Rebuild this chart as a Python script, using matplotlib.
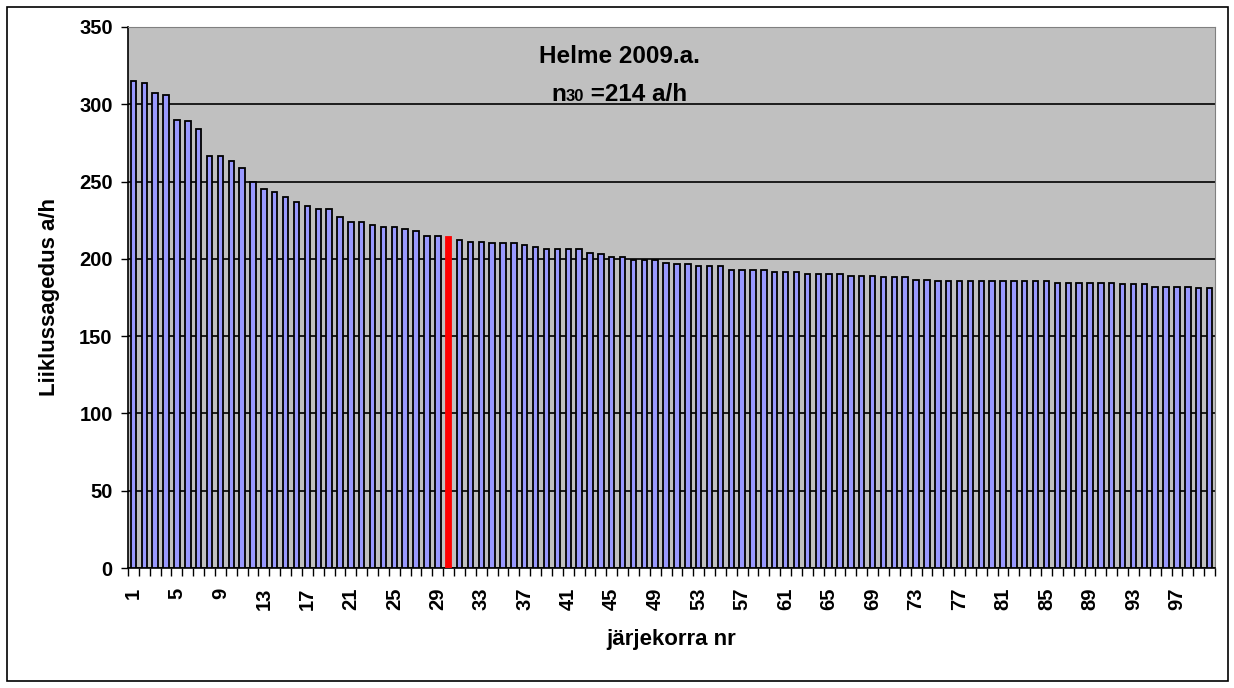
import matplotlib
matplotlib.use("Agg")
import matplotlib.pyplot as plt
import numpy as np
from matplotlib.offsetbox import TextArea, HPacker, AnchoredOffsetbox
from matplotlib.patches import Rectangle

# tunni liiklussagedused kahanevas järjekorras
jrk = list(range(1, 101))
sagedus = [315, 313.5, 307, 306, 290, 289, 284, 266.5, 266.5, 263.5,
           258.5, 250, 245, 243.5, 240, 237, 234.5, 232, 232, 227,
           224, 224, 222, 220.5, 220.5, 219, 218, 215, 215, 214,
           212.5, 211, 211, 210, 210, 210, 209, 207.5, 206.5, 206.5,
           206.5, 206.5, 204, 203, 201.5, 201.5, 199, 199, 199, 197.5,
           196.5, 196.5, 195.5, 195.5, 195.5, 193, 193, 193, 193, 191.5,
           191.5, 191.5, 190.5, 190.5, 190.5, 190.5, 189, 189, 189, 188,
           188, 188, 186.5, 186.5, 185.5, 185.5, 185.5, 185.5, 185.5, 185.5,
           185.5, 185.5, 185.5, 185.5, 185.5, 184.5, 184.5, 184.5, 184.5, 184.5,
           184.5, 183.5, 183.5, 183.5, 182, 182, 182, 182, 181, 181]
n30 = 30
pealkiri = "Helme 2009.a."
yticks = [0, 50, 100, 150, 200, 250, 300, 350]
xlabels_at = list(range(1, 101, 4))

plt.rcParams['font.family'] = ['Liberation Sans', 'DejaVu Sans']
plt.rcParams['font.weight'] = 'bold'

fig = plt.figure(figsize=(12.34, 6.88), dpi=100)
ax = fig.add_axes([128/1234, 1 - 568/688, (1215 - 128)/1234, (568 - 27)/688])
ax.set_facecolor('#C0C0C0')

colors = ['#9999FF'] * len(jrk)
edges = ['black'] * len(jrk)
colors[n30 - 1] = '#FF0000'
edges[n30 - 1] = '#FF0000'
ax.bar(jrk, sagedus, width=0.5, color=colors, edgecolor=edges, linewidth=1.3, zorder=3)

ax.set_xlim(0.5, 100.5)
ax.set_ylim(0, 350)
ax.set_yticks(yticks)
ax.set_yticklabels([str(v) for v in yticks], fontsize=14.5, fontweight='bold')
ax.yaxis.grid(True, color='black', linewidth=1.2, zorder=1)
ax.set_axisbelow(True)

ax.set_xticks(xlabels_at)
ax.set_xticklabels([str(v) for v in xlabels_at], rotation=90, fontsize=14.5, fontweight='bold')
ax.tick_params(axis='x', length=0, pad=14)
ax.set_xticks(np.arange(0.5, 101, 1), minor=True)
ax.tick_params(axis='x', which='minor', length=6, width=1, color='black')
ax.tick_params(axis='y', length=5, width=1, pad=6)

for s in ['top', 'right']:
    ax.spines[s].set_color('#808080')
for s in ['left', 'bottom']:
    ax.spines[s].set_color('black')
    ax.spines[s].set_linewidth(1.2)

ax.set_ylabel("Liiklussagedus a/h", fontsize=16, fontweight='bold', labelpad=14)
ax.set_xlabel("järjekorra nr", fontsize=16, fontweight='bold', labelpad=14)

ax.text(0.452, 0.945, pealkiri, transform=ax.transAxes, ha='center', va='center',
        fontsize=17.5, fontweight='bold')
parts = HPacker(children=[TextArea("n", textprops=dict(fontsize=17.5, fontweight='bold')),
                          TextArea("30", textprops=dict(fontsize=12, fontweight='bold')),
                          TextArea(" =214 a/h", textprops=dict(fontsize=17.5, fontweight='bold'))],
                align="baseline", pad=0, sep=0)
box = AnchoredOffsetbox(loc='center', child=parts, frameon=False,
                        bbox_to_anchor=(0.452, 0.876), bbox_transform=ax.transAxes, borderpad=0)
ax.add_artist(box)

fig.patches.append(Rectangle((7/1234, 7/688), 1221/1234, 674/688, transform=fig.transFigure,
                             fill=False, edgecolor='black', linewidth=1.2))

fig.savefig("out.png", dpi=100)
